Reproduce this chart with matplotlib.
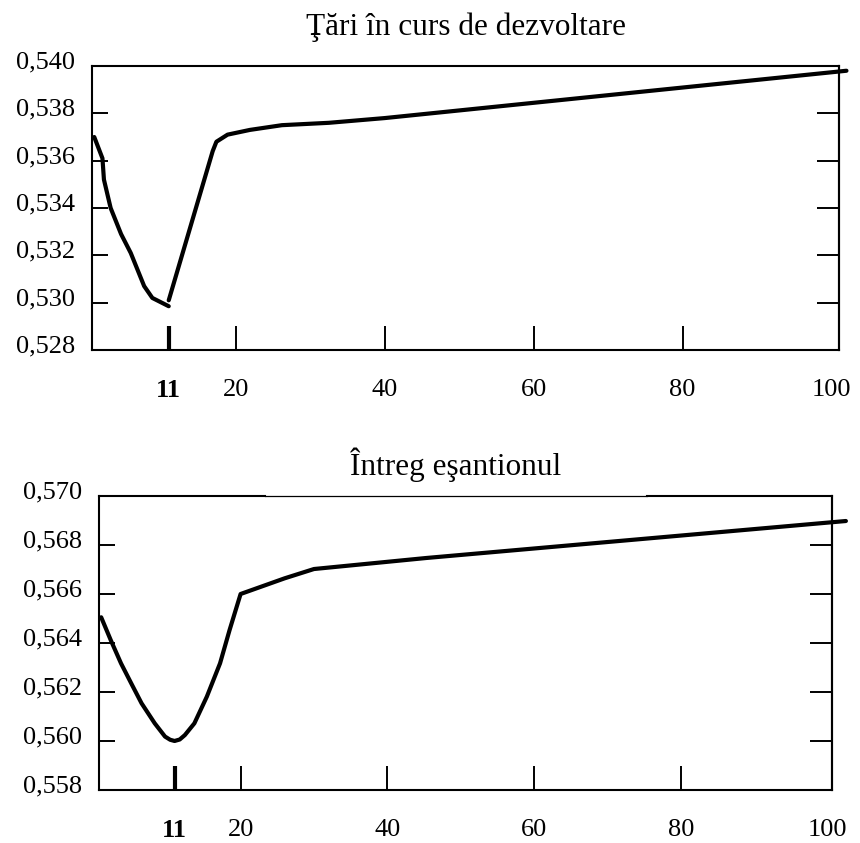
import matplotlib.pyplot as plt
from matplotlib.transforms import ScaledTranslation

plt.rcParams['font.family'] = ['Liberation Serif', 'DejaVu Serif']
plt.rcParams['font.size'] = 19

# Tari in curs de dezvoltare (two strokes: down to 11, then up from 11)
top_x_down = [1, 2.1, 2.3, 3.2, 4.6, 5.9, 7.7, 8.8, 11]
top_y_down = [0.5370, 0.5361, 0.5352, 0.5340, 0.5329, 0.5321, 0.5307, 0.5302, 0.52985]
top_x_up = [11, 16.9, 17.4, 18.9, 21.9, 26.2, 32.5, 40, 102]
top_y_up = [0.5301, 0.5364, 0.5368, 0.5371, 0.5373, 0.5375, 0.5376, 0.5378, 0.5398]
top_yticks = [0.528, 0.530, 0.532, 0.534, 0.536, 0.538, 0.540]

# Intreg esantionul
bot_x = [1, 2.3, 3.7, 5.1, 6.5, 8.3, 9.7, 10.4, 11, 11.7, 12.4, 13.7, 15.4, 17.2, 18.5, 20, 26, 30, 45.3, 102.5]
bot_y = [0.56505, 0.56412, 0.56317, 0.56235, 0.56154, 0.56072, 0.56018, 0.56005, 0.56000, 0.56006,
         0.56024, 0.56072, 0.56181, 0.56317, 0.56453, 0.56600, 0.56664, 0.56702, 0.56747, 0.56898]
bot_yticks = [0.558, 0.560, 0.562, 0.564, 0.566, 0.568, 0.570]

xticks = [11, 20, 40, 60, 80, 100]
xtick_labels = ['11', '20', '40', '60', '80', '100']

fig = plt.figure(figsize=(8.6, 8.43), dpi=100)
ax1 = fig.add_axes([0.107, 0.5848, 0.8686, 0.3369])
ax2 = fig.add_axes([0.1151, 0.0629, 0.8523, 0.3487])


def style(ax, yticks, xlim):
    ax.set_xlim(*xlim)
    ax.set_ylim(yticks[0], yticks[-1])
    ax.set_yticks(yticks)
    ax.set_yticklabels([f'{v:.3f}'.replace('.', ',') for v in yticks])
    ax.set_xticks(xticks)
    ax.set_xticklabels(xtick_labels)
    ax.tick_params(axis='y', direction='in', length=11.5, width=1.4, pad=12)
    ax.tick_params(axis='x', direction='in', length=17, width=1.4, pad=21)
    for s in ax.spines.values():
        s.set_linewidth(1.5)
    sec = ax.secondary_yaxis('right')
    sec.set_yticks(yticks)
    sec.tick_params(direction='in', length=15.5, width=1.4, labelright=False)
    sec.spines['right'].set_linewidth(1.5)
    # no tick mark at 100 (sits near the right frame), bold mark at 11
    ticks = ax.xaxis.get_major_ticks()
    ticks[-1].tick1line.set_visible(False)
    ticks[0].tick1line.set_markeredgewidth(3)
    ax.get_xticklabels()[0].set_fontweight('bold')
    shift = ScaledTranslation(0, 0.06, fig.dpi_scale_trans)
    for lab in ax.get_yticklabels():
        lab.set_transform(lab.get_transform() + shift)


style(ax1, top_yticks, (0.7, 101))
ax1.plot(top_x_down, top_y_down, color='black', lw=3, clip_on=False,
         solid_joinstyle='round', solid_capstyle='round')
ax1.plot(top_x_up, top_y_up, color='black', lw=3, clip_on=False,
         solid_joinstyle='round', solid_capstyle='round')
ax1.set_title('Ţări în curs de dezvoltare', pad=22, fontsize=22.5)

style(ax2, bot_yticks, (0.7, 100.6))
ax2.plot(bot_x, bot_y, color='black', lw=3, clip_on=False,
         solid_joinstyle='round', solid_capstyle='round')
ax2.set_title('Întreg eşantionul', pad=15, fontsize=22.5, x=0.486)

# top frame of the lower panel is thinner under the title
ax2.spines['top'].set_visible(False)
ax2.plot([0, 0.2265], [1, 1], transform=ax2.transAxes, color='black', lw=1.5, clip_on=False)
ax2.plot([0.2265, 0.7476], [1, 1], transform=ax2.transAxes, color='black', lw=0.9, clip_on=False)
ax2.plot([0.7476, 1], [1, 1], transform=ax2.transAxes, color='black', lw=1.5, clip_on=False)

plt.savefig('out.png', dpi=100)
